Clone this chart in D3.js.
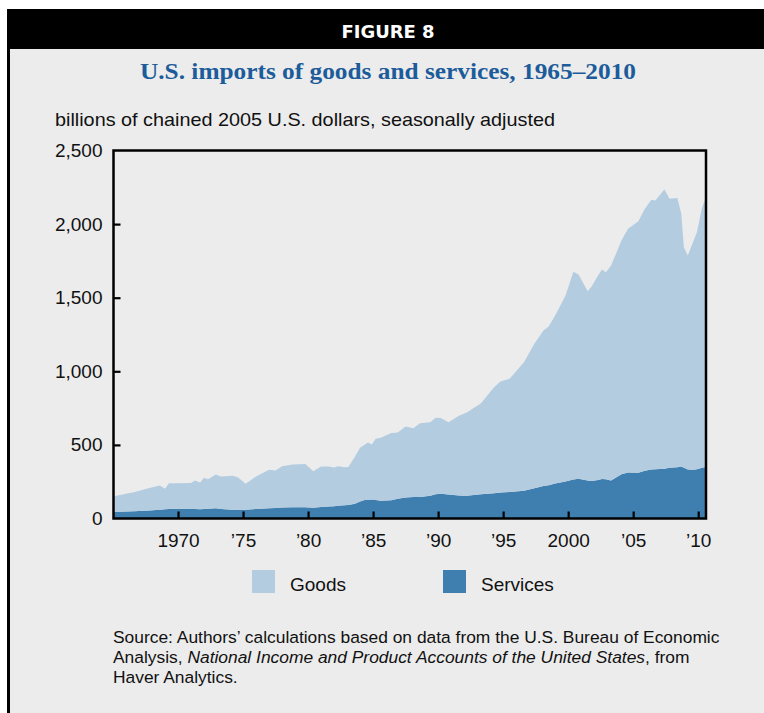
<!DOCTYPE html>
<html>
<head>
<meta charset="utf-8">
<script src="https://cdn.jsdelivr.net/npm/d3@7"></script>
<style>
  html, body { margin: 0; padding: 0; background: #ffffff; }
  svg { display: block; }
  text { font-family: "Liberation Sans", Arial, Helvetica, sans-serif; }
</style>
</head>
<body>
<svg id="chart" width="764" height="713"></svg>
<script>
// ---- data (decimal years, billions of chained 2005 dollars) ----
const periods = [1965.0, 1966.0, 1966.6, 1967.8, 1968.6, 1969.0, 1969.3, 1970.0, 1971.0, 1971.3,
  1971.7, 1972.0, 1972.3, 1972.9, 1973.3, 1974.2, 1974.6, 1975.2, 1976.0, 1977.0,
  1977.5, 1978.0, 1978.8, 1979.8, 1980.4, 1981.0, 1981.6, 1982.0, 1982.3, 1982.8,
  1983.1, 1983.6, 1984.0, 1984.4, 1984.6, 1984.9, 1985.2, 1985.6, 1986.4, 1986.9,
  1987.5, 1988.1, 1988.6, 1989.4, 1989.8, 1990.2, 1990.8, 1991.6, 1992.2, 1993.3,
  1994.3, 1994.8, 1995.5, 1996.6, 1997.4, 1998.1, 1998.5, 1999.0, 1999.8, 2000.4,
  2000.8, 2001.5, 2001.8, 2002.3, 2002.6, 2002.9, 2003.3, 2004.1, 2004.6, 2005.4,
  2005.9, 2006.4, 2006.7, 2007.4, 2007.8, 2008.4, 2008.7, 2008.9, 2009.2, 2009.6,
  2009.9, 2010.3, 2010.6];

const services = [45, 48, 50, 55, 60, 62, 64, 66, 64, 64,
  63, 65, 67, 70, 64, 59, 59, 59, 65, 70,
  72, 74, 76, 77, 73, 78, 82, 84, 86, 90,
  92, 100, 115, 127, 128, 129, 125, 120, 124, 134,
  143, 146, 146, 155, 165, 168, 163, 157, 155, 165,
  172, 176, 180, 189, 205, 220, 226, 238, 251, 265,
  270, 258, 254, 262, 268, 266, 258, 300, 312, 310,
  325, 333, 335, 338, 345, 348, 353, 345, 333, 331,
  335, 345, 350];

const goods = [104, 120, 129, 153, 164, 140, 176, 174, 178, 194,
  182, 211, 200, 229, 221, 231, 222, 177, 220, 261,
  254, 281, 291, 294, 248, 275, 271, 262, 269, 259,
  258, 320, 365, 378, 388, 374, 416, 428, 456, 450,
  482, 467, 501, 499, 519, 514, 491, 541, 565, 618,
  720, 755, 769, 873, 982, 1057, 1078, 1141, 1264, 1411,
  1387, 1286, 1322, 1389, 1423, 1407, 1461, 1588, 1656, 1710,
  1779, 1832, 1825, 1897, 1827, 1830, 1717, 1498, 1454, 1546,
  1610, 1770, 1833];

const yTicks = [0, 500, 1000, 1500, 2000, 2500];
const xTicks = [1970, 1975, 1980, 1985, 1990, 1995, 2000, 2005, 2010];
const xTickLabels = ["1970", "\u201975", "\u201980", "\u201985", "\u201990", "\u201995", "2000", "\u201905", "\u201910"];
const seriesNames = ["Goods", "Services"];

// ---- styles ----
const C_BG = "#ececec", C_GOODS = "#b4cce0", C_SERV = "#3f7fb0", C_TITLE = "#1d5c9a";

const svg = d3.select("#chart");

// page background & frame
svg.append("rect").attr("x", 0).attr("y", 0).attr("width", 764).attr("height", 713).attr("fill", "#ffffff");
svg.append("rect").attr("x", 7).attr("y", 9).attr("width", 757).attr("height", 704).attr("fill", C_BG);
svg.append("rect").attr("x", 7).attr("y", 9).attr("width", 757).attr("height", 40).attr("fill", "#000000");
svg.append("rect").attr("x", 7).attr("y", 9).attr("width", 3).attr("height", 704).attr("fill", "#000000");

svg.append("text").attr("x", 388).attr("y", 38).attr("text-anchor", "middle")
  .attr("fill", "#ffffff").attr("font-weight", "bold").attr("font-size", 17)
  .style("font-family", "'Liberation Sans Narrow', 'DejaVu Sans Condensed', Arial, sans-serif")
  .attr("textLength", 93).attr("lengthAdjust", "spacingAndGlyphs")
  .text("FIGURE 8");

svg.append("text").attr("x", 388).attr("y", 79).attr("text-anchor", "middle")
  .attr("fill", C_TITLE).attr("font-weight", "bold").attr("font-size", 24)
  .style("font-family", "'Liberation Serif', 'Times New Roman', serif")
  .attr("textLength", 496).attr("lengthAdjust", "spacingAndGlyphs")
  .text("U.S. imports of goods and services, 1965\u20132010");

svg.append("text").attr("x", 55).attr("y", 126).attr("font-size", 19).attr("fill", "#111")
  .attr("textLength", 500).attr("lengthAdjust", "spacingAndGlyphs")
  .text("billions of chained 2005 U.S. dollars, seasonally adjusted");

// ---- scales ----
const x = d3.scaleLinear().domain([1965, 2010.6]).range([113, 706]);
const y = d3.scaleLinear().domain([0, 2500]).range([518.5, 150.5]);

const rows = periods.map((t, i) => ({ t, Services: services[i], Goods: goods[i] }));
const stack = d3.stack().keys(["Services", "Goods"]);
const layers = stack(rows);
const area = d3.area().x(d => x(d.data.t)).y0(d => y(d[0])).y1(d => y(d[1]));
const colors = { Services: C_SERV, Goods: C_GOODS };

svg.append("g").selectAll("path").data(layers).join("path")
  .attr("d", area).attr("fill", d => colors[d.key]);

// ---- frame of plot ----
svg.append("rect").attr("x", 113.5).attr("y", 150.5).attr("width", 592.5).attr("height", 368)
  .attr("fill", "none").attr("stroke", "#000").attr("stroke-width", 2.5);

// y axis
const yAxis = d3.axisLeft(y).tickValues(yTicks).tickFormat(d3.format(",")).tickSize(0).tickPadding(11);
const gy = svg.append("g").attr("transform", "translate(113.5,0)").call(yAxis);
gy.select(".domain").remove();
gy.selectAll("text").attr("font-size", 19).attr("fill", "#111")
  .style("font-family", "'Liberation Sans', Arial, sans-serif");
gy.selectAll(".tick").filter(d => d > 0 && d < 2500).append("line")
  .attr("x1", 0).attr("x2", 7).attr("stroke", "#000").attr("stroke-width", 2.2);

// x axis
const xAxis = d3.axisBottom(x).tickValues(xTicks).tickFormat((d, i) => xTickLabels[i]).tickSize(0).tickPadding(15);
const gx = svg.append("g").attr("transform", "translate(0,518.5)").call(xAxis);
gx.select(".domain").remove();
gx.selectAll("text").attr("font-size", 19).attr("fill", "#111")
  .style("font-family", "'Liberation Sans', Arial, sans-serif");
gx.selectAll(".tick").append("line")
  .attr("y1", 0).attr("y2", -7).attr("stroke", "#000").attr("stroke-width", 2.2);

// ---- legend ----
const legendX = [252, 443];
const legendColors = [C_GOODS, C_SERV];
const lg = svg.append("g");
seriesNames.forEach((name, i) => {
  lg.append("rect").attr("x", legendX[i]).attr("y", 570).attr("width", 23).attr("height", 23).attr("fill", legendColors[i]);
  lg.append("text").attr("x", legendX[i] + 38).attr("y", 591).attr("font-size", 19).attr("fill", "#111").text(name);
});

// ---- source ----
const src = svg.append("g").attr("font-size", 17.4).attr("fill", "#111");
src.append("text").attr("x", 113).attr("y", 643)
  .text("Source: Authors\u2019 calculations based on data from the U.S. Bureau of Economic");
const l2 = src.append("text").attr("x", 113).attr("y", 663);
l2.append("tspan").text("Analysis, ");
l2.append("tspan").attr("font-style", "italic").text("National Income and Product Accounts of the United States");
l2.append("tspan").text(", from");
src.append("text").attr("x", 113).attr("y", 683).text("Haver Analytics.");
</script>
</body>
</html>
